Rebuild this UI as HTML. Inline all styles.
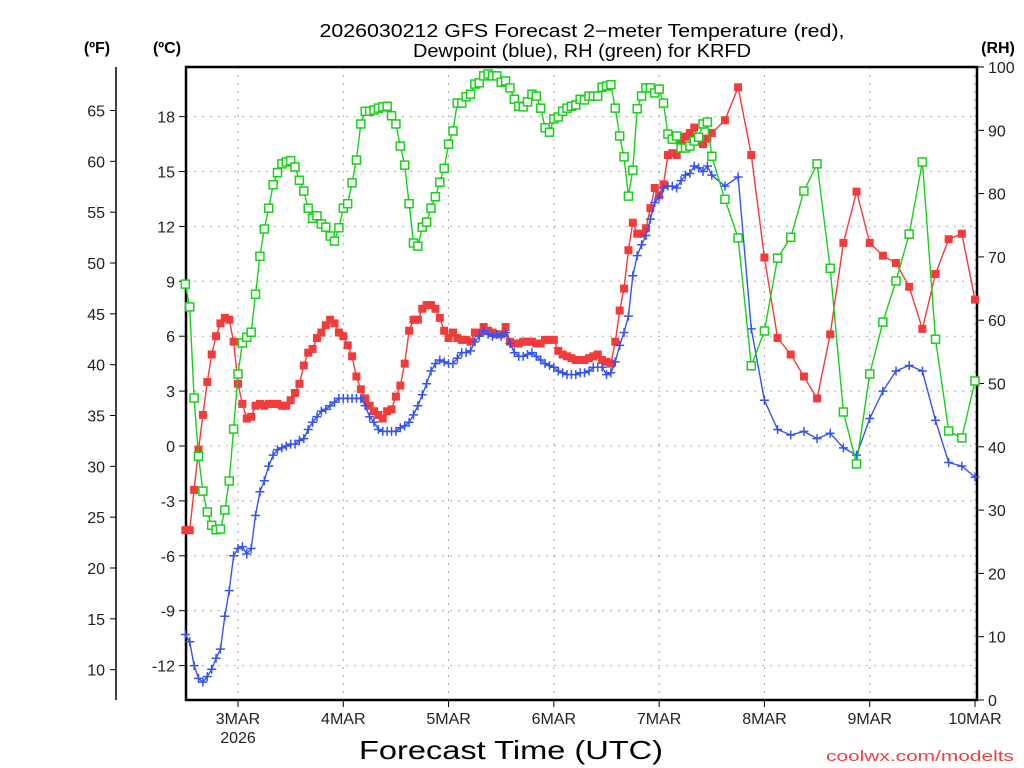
<!DOCTYPE html>
<html><head><meta charset="utf-8"><title>GFS Forecast KRFD</title>
<style>
html,body{margin:0;padding:0;background:#fff;}
svg{display:block;font-family:"Liberation Sans",sans-serif;}
</style></head>
<body>
<svg id="chart" width="1024" height="768" viewBox="0 0 1024 768" xmlns="http://www.w3.org/2000/svg">
<rect x="0" y="0" width="1024" height="768" fill="#fff"/>
<text x="582" y="37" text-anchor="middle" font-size="18" textLength="525" lengthAdjust="spacingAndGlyphs" fill="#000">2026030212 GFS Forecast 2−meter Temperature (red),</text>
<text x="582" y="57" text-anchor="middle" font-size="18" textLength="338" lengthAdjust="spacingAndGlyphs" fill="#000">Dewpoint (blue), RH (green) for KRFD</text>
<text x="97" y="53" text-anchor="middle" font-size="16" font-weight="bold">(ºF)</text>
<text x="167" y="53" text-anchor="middle" font-size="16" font-weight="bold">(ºC)</text>
<text x="998" y="53" text-anchor="middle" font-size="16" font-weight="bold">(RH)</text>
<g id="grid"></g>
<g id="axes"></g>
<g id="series"></g>
<text x="511" y="759" text-anchor="middle" font-size="26" textLength="304" lengthAdjust="spacingAndGlyphs" fill="#000">Forecast Time (UTC)</text>
<text x="1014" y="761" text-anchor="end" font-size="15" textLength="188" lengthAdjust="spacingAndGlyphs" fill="#f04040">coolwx.com/modelts</text>
</svg>
<script>
// ---- data ----
const hourlyHours = Array.from({length:121},(_,i)=>i);
const threeHourlyHours = [123,126,129,132,135,138,141,144,147,150,153,156,159,162,165,168,171,174,177,180];
const tempHourly = [-4.6,-4.6,-2.4,-0.2,1.7,3.5,5.0,6.0,6.7,7.0,6.9,5.7,3.4,2.3,1.5,1.6,2.2,2.3,2.2,2.3,2.3,2.3,2.2,2.2,2.5,2.9,3.4,4.4,5.1,5.3,5.9,6.2,6.6,6.9,6.7,6.2,6.0,5.5,4.9,3.8,3.1,2.6,2.2,1.9,1.7,1.5,1.9,2.0,2.7,3.3,4.5,6.3,6.9,6.9,7.5,7.7,7.7,7.5,7.0,6.3,5.9,6.2,5.9,5.8,5.8,5.7,6.2,6.2,6.5,6.3,6.2,6.1,6.1,6.5,5.7,5.6,5.6,5.7,5.7,5.7,5.6,5.6,5.8,5.8,5.8,5.2,5.0,4.9,4.8,4.7,4.7,4.7,4.8,4.9,5.0,4.7,4.6,4.5,5.7,7.4,8.6,10.7,12.2,11.6,11.6,11.9,13.0,14.1,13.7,14.3,15.9,16.0,15.9,16.7,16.9,17.1,17.4,16.7,16.5,16.8,17.1];
const temp3h = [17.8,19.6,15.9,10.3,5.9,5.0,3.8,2.6,6.1,11.1,13.9,11.1,10.4,10.0,8.7,6.4,9.4,11.3,11.6,8.0];
const dewHourly = [-10.3,-10.7,-12.0,-12.7,-12.9,-12.6,-12.2,-11.6,-11.1,-9.3,-7.9,-6.0,-5.6,-5.5,-5.9,-5.6,-3.8,-2.5,-1.9,-1.1,-0.5,-0.2,-0.1,0.0,0.1,0.1,0.3,0.4,0.9,1.3,1.6,1.9,2.0,2.2,2.4,2.6,2.6,2.6,2.6,2.6,2.6,2.2,1.6,1.3,0.9,0.8,0.8,0.8,0.8,1.0,1.1,1.3,1.7,2.2,2.8,3.4,4.1,4.5,4.7,4.6,4.5,4.5,4.8,5.1,5.1,5.2,5.7,6.0,6.3,6.1,6.0,6.1,6.0,6.2,5.6,5.1,4.9,4.9,5.0,5.1,4.9,4.7,4.5,4.4,4.3,4.1,4.0,3.9,3.9,3.9,4.0,4.0,4.1,4.3,4.3,4.3,3.9,4.0,4.6,5.5,6.2,7.1,9.3,10.4,11.0,11.5,12.4,13.3,13.6,14.1,14.2,14.2,14.1,14.5,14.8,14.9,15.3,15.2,15.0,15.3,14.8];
const dew3h = [14.2,14.7,6.4,2.5,0.9,0.6,0.8,0.4,0.7,-0.1,-0.5,1.5,3.0,4.1,4.4,4.1,1.4,-0.9,-1.1,-1.7];
const rhHourly = [65.7,62.1,47.7,38.5,33.0,29.7,27.6,26.9,27.0,30.0,34.6,42.8,51.5,56.4,57.3,58.1,64.1,70.1,74.4,77.7,81.4,83.3,84.7,85.0,85.2,84.2,82.1,80.4,77.7,76.1,76.5,75.2,74.7,73.3,72.5,74.6,77.7,78.4,81.7,85.3,91.0,93.0,93.0,93.2,93.5,93.7,93.8,92.3,91.0,87.5,84.5,78.4,72.2,71.7,74.7,75.5,77.7,79.5,81.8,84.0,87.8,89.9,94.3,94.3,95.3,95.7,97.3,97.5,98.6,98.9,98.6,98.6,97.6,97.8,96.7,94.9,93.8,93.7,94.5,95.7,95.4,93.5,90.4,89.7,91.8,92.1,93.0,93.5,93.8,94.0,94.9,94.8,95.4,95.4,95.4,96.8,97.0,97.2,93.5,89.1,85.8,79.6,83.7,93.4,95.4,96.7,96.7,95.9,96.5,94.3,89.4,88.6,89.1,87.2,87.2,87.5,88.3,88.9,91.0,91.3,85.9];
const rh3h = [79.1,73.0,52.8,58.3,69.8,73.1,80.4,84.7,68.2,45.5,37.3,51.5,59.7,66.2,73.6,85.0,57.0,42.5,41.4,50.4];
const celsiusTicks = [18,15,12,9,6,3,0,-3,-6,-9,-12];
const fahrenheitTicks = [65,60,55,50,45,40,35,30,25,20,15,10];
const rhTicks = [0,10,20,30,40,50,60,70,80,90,100];
const dayTickHours = [12,36,60,84,108,132,156,180];
const dayTickLabels = ["3MAR","4MAR","5MAR","6MAR","7MAR","8MAR","9MAR","10MAR"];

// ---- axis functions ----
const PL=186, PR=977, PT=67, PB=700;
function xH(h){return 238 + (h-12)*737/168;}
function yC(c){return 446 - c*18.3;}
function yF(f){return yC((f-32)/1.8);}
function yRH(r){return PB - r*(PB-PT)/100;}

const NS="http://www.w3.org/2000/svg";
function mk(tag,attrs,parent){const e=document.createElementNS(NS,tag);for(const k in attrs)e.setAttribute(k,attrs[k]);parent.appendChild(e);return e;}
const grid=document.getElementById('grid'), axes=document.getElementById('axes'), series=document.getElementById('series');

// grid
celsiusTicks.forEach(c=>{
  const l=mk('line',{x1:PL,x2:PR,y1:yC(c),y2:yC(c),stroke:'#aaa','stroke-width':1,'stroke-dasharray':'2,6'},grid);
  
  
});
dayTickHours.forEach(h=>{
  const l=mk('line',{x1:xH(h),x2:xH(h),y1:PT,y2:PB,stroke:'#aaa','stroke-width':1,'stroke-dasharray':'2,6'},grid);
  
  
});

// frame
const fr=mk('rect',{x:PL,y:PT,width:PR-PL,height:PB-PT,fill:'none',stroke:'#000','stroke-width':2.5},axes);



// Celsius axis
celsiusTicks.forEach(c=>{
  mk('line',{x1:PL-7,x2:PL,y1:yC(c),y2:yC(c),stroke:'#000','stroke-width':1},axes);
  const t=mk('text',{x:PL-11,y:yC(c)+6,'text-anchor':'end','font-size':16,fill:'#222'},axes);
  t.textContent=c;
  
  
});
// Fahrenheit axis
const fl=mk('line',{x1:116,x2:116,y1:PT,y2:PB,stroke:'#000','stroke-width':1.5},axes);


fahrenheitTicks.forEach(f=>{
  mk('line',{x1:110,x2:116,y1:yF(f),y2:yF(f),stroke:'#000','stroke-width':1},axes);
  const t=mk('text',{x:105,y:yF(f)+6,'text-anchor':'end','font-size':16,fill:'#222'},axes);
  t.textContent=f;
  
  
});
// RH axis
rhTicks.forEach(r=>{
  mk('line',{x1:PR,x2:PR+7,y1:yRH(r),y2:yRH(r),stroke:'#000','stroke-width':1},axes);
  const t=mk('text',{x:PR+11,y:yRH(r)+6,'text-anchor':'start','font-size':16,fill:'#222'},axes);
  t.textContent=r;
  
  
});
// X axis
dayTickHours.forEach((h,i)=>{
  mk('line',{x1:xH(h),x2:xH(h),y1:PB,y2:PB+7,stroke:'#000','stroke-width':1},axes);
  const t=mk('text',{x:xH(h),y:PB+24,'text-anchor':'middle','font-size':16,fill:'#222'},axes);
  t.textContent=dayTickLabels[i];
  
  
});
const yr=mk('text',{x:xH(12),y:PB+43,'text-anchor':'middle','font-size':16,fill:'#222'},axes);
yr.textContent='2026';



// series
function drawSeries(name,hours,vals,yfn,color,marker){
  const g=mk('g',{},series);
  
  
  const pts=hours.map((h,i)=>xH(h).toFixed(1)+','+yfn(vals[i]).toFixed(1)).join(' ');
  mk('polyline',{points:pts,fill:'none',stroke:color,'stroke-width':1.4},g);
  hours.forEach((h,i)=>{
    const x=xH(h), y=yfn(vals[i]);
    let m;
    if(marker==='filled'){m=mk('rect',{x:x-4,y:y-4,width:8,height:8,fill:color},g);}
    else if(marker==='open'){m=mk('rect',{x:x-4,y:y-4,width:8,height:8,fill:'#fff',stroke:color,'stroke-width':1.5},g);}
    else {m=mk('path',{d:`M${x-4.5},${y}H${x+4.5}M${x},${y-4.5}V${y+4.5}`,stroke:color,'stroke-width':1.5,fill:'none'},g);}
    
    
  });
}
const allH=hourlyHours.concat(threeHourlyHours);
drawSeries('temperature-series',allH,tempHourly.concat(temp3h),yC,'#f23b3b','filled');
drawSeries('dewpoint-series',allH,dewHourly.concat(dew3h),yC,'#3453f0','plus');
drawSeries('rh-series',allH,rhHourly.concat(rh3h),yRH,'#18d018','open');
</script>
</body></html>
